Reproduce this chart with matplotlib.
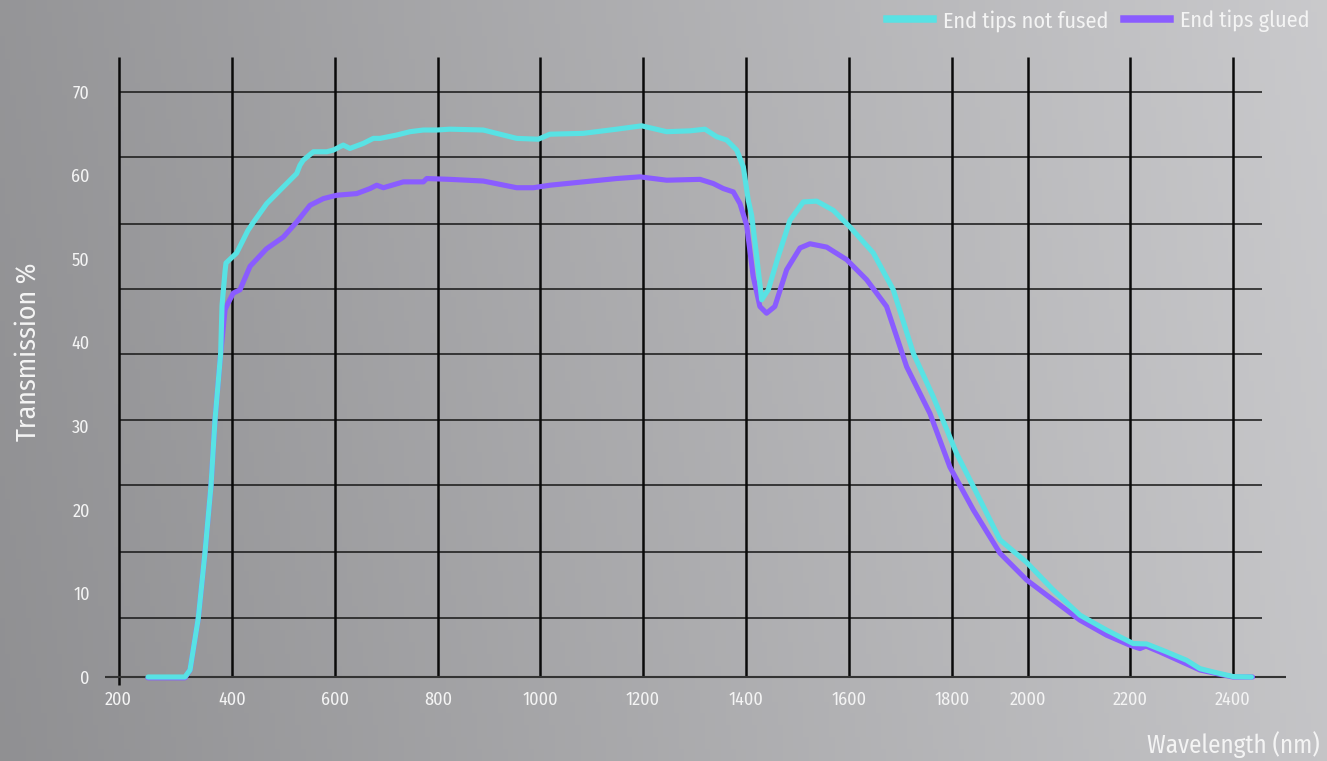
import numpy as np
import matplotlib
matplotlib.use("Agg")
import matplotlib.pyplot as plt
from matplotlib.lines import Line2D

# ---------------- data ----------------
series_names = ["End tips not fused", "End tips glued"]

cyan_wl = [252, 317, 326, 340.6, 352.4, 363, 370, 380, 382.4, 387.7, 389.4, 409, 431, 440.8,
           467.4, 499.6, 525.6, 532, 538.4, 558, 584, 596.7, 616, 629, 655, 674.4, 687.4,
           719.8, 745.6, 771.4, 797.5, 823.5, 888.8, 954.3, 996.7, 1019.4, 1084, 1149,
           1197.5, 1246, 1291.3, 1320.4, 1343, 1362.5, 1382, 1394.8, 1404.5, 1411, 1420.8,
           1430.5, 1443.3, 1462.7, 1485.4, 1511.3, 1537.3, 1569.6, 1602, 1647.2, 1686,
           1725, 1763.7, 1812.4, 1856, 1926.3, 1996.6, 2049.6, 2101.9, 2154.3, 2206.4,
           2232.4, 2271.2, 2310, 2335.9, 2361.7, 2400.5, 2436]
cyan_t = [0, 0, 0.84, 7.05, 14.9, 22.9, 30.7, 38.7, 44.4, 48.5, 49.5, 50.7, 53.4, 54.3,
          56.6, 58.6, 60.2, 61.2, 61.8, 62.8, 62.8, 63.0, 63.6, 63.2, 63.8, 64.4, 64.4,
          64.8, 65.2, 65.4, 65.4, 65.5, 65.4, 64.4, 64.3, 64.9, 65.0, 65.5,
          65.9, 65.2, 65.3, 65.5, 64.6, 64.2, 63.0, 61.0, 57.0, 55.2, 50.3,
          45.1, 46.3, 50.3, 54.6, 56.8, 56.9, 55.8, 53.8, 50.7, 46.3,
          38.7, 33.5, 26.7, 22.8, 16.4, 13.7, 10.4, 7.4, 5.6, 4.0,
          3.95, 3.0, 2.0, 1.0, 0.6, 0.05, 0.0]

purple_wl = [252, 317, 326, 340.6, 352.4, 363, 370, 380, 383.3, 387.7, 393, 402.5, 415.5,
             435, 467, 499.6, 525.6, 551.5, 577.4, 603.3, 642.2, 668, 681, 694, 732.8,
             771.6, 778.2, 823.5, 888.8, 954.3, 986.9, 1019.4, 1084, 1149, 1194.2, 1246,
             1310.7, 1336.6, 1356, 1375.4, 1388.3, 1401.4, 1414, 1427, 1440, 1456, 1479,
             1505, 1524.3, 1556.7, 1595.5, 1634.3, 1673, 1712, 1757.3, 1796, 1856, 1926.3,
             1996.6, 2049.6, 2101.9, 2154.3, 2200, 2219.4, 2231, 2258, 2335.9, 2400, 2438]
purple_t = [-0.1, -0.1, 0.84, 7.05, 14.9, 22.9, 30.7, 38.7, 40.9, 43.9, 44.7, 45.9, 46.3,
            49.1, 51.2, 52.6, 54.4, 56.4, 57.2, 57.6, 57.8, 58.4, 58.8, 58.5, 59.2,
            59.2, 59.6, 59.5, 59.3, 58.5, 58.5, 58.8, 59.2, 59.6, 59.8, 59.4,
            59.5, 59.0, 58.4, 58.0, 56.6, 54.0, 47.9, 44.3, 43.5, 44.3, 48.7,
            51.3, 51.8, 51.4, 49.9, 47.5, 44.3, 37.1, 31.5, 25.1, 20.0, 14.8,
            11.6, 9.2, 6.8, 5.0, 3.8, 3.4, 3.7, 3.0, 0.84, 0.0, 0.0]

x_ticks = [200, 400, 600, 800, 1000, 1200, 1400, 1600, 1800, 2000, 2200, 2400]
y_ticks = [0, 10, 20, 30, 40, 50, 60, 70]

# decorative (non-uniform) axis geometry of the original artwork
x_tick_pos = [0, 1.102, 2.102, 3.102, 4.092, 5.092, 6.092, 7.092, 8.092, 8.830, 9.820, 10.820]
h_grid = [7.0, 14.9, 22.9, 30.7, 38.6, 46.4, 54.2, 62.2, 70.0]

CYAN = "#58e2e4"
PURPLE = "#8a5cff"
TXT = "#f4f4f4"

plt.rcParams["font.family"] = ["Fira Sans Condensed", "Open Sans", "DejaVu Sans"]
plt.rcParams["font.weight"] = "normal"

# ---------------- piecewise x scale ----------------
WL = np.array(x_ticks, float)
POS = np.array(x_tick_pos, float)
s0 = (POS[1] - POS[0]) / (WL[1] - WL[0])
s1 = (POS[-1] - POS[-2]) / (WL[-1] - WL[-2])


def fwd(x):
    x = np.asarray(x, float)
    out = np.interp(x, WL, POS)
    out = np.where(x < WL[0], POS[0] + (x - WL[0]) * s0, out)
    out = np.where(x > WL[-1], POS[-1] + (x - WL[-1]) * s1, out)
    return out


def inv(u):
    u = np.asarray(u, float)
    out = np.interp(u, POS, WL)
    out = np.where(u < POS[0], WL[0] + (u - POS[0]) / s0, out)
    out = np.where(u > POS[-1], WL[-1] + (u - POS[-1]) / s1, out)
    return out


W, H = 1327, 761
fig = plt.figure(figsize=(W / 100, H / 100), dpi=100)

# background gradient
bg = fig.add_axes([0, 0, 1, 1], zorder=-10)
gx = np.linspace(0, 1, 256)
gy = np.linspace(0, 1, 64)
GX, GY = np.meshgrid(gx, gy)
val = 0.565 + 0.205 * GX + 0.02 * GY
bg.imshow(np.dstack([val, val, val + 0.01]).clip(0, 1), aspect="auto", extent=[0, 1, 0, 1], origin="lower")
bg.axis("off")

ax = fig.add_axes([105 / W, 1 - 690 / H, (1286 - 105) / W, (690 - 57) / H])
ax.patch.set_alpha(0)
ax.set_xscale("function", functions=(fwd, inv))
ax.set_xlim(176.2, 2503)
ax.set_ylim(-1.554, 74.13)
for s in ax.spines.values():
    s.set_visible(False)

# grid
ax.hlines(h_grid, 203, 2456, color="#1c1c1c", lw=1.15, zorder=1)
ax.vlines(x_ticks[1:], 0, 74.13, color="#0a0a0a", lw=1.8, zorder=1)
ax.vlines([x_ticks[0]], -0.96, 74.13, color="#0a0a0a", lw=1.8, zorder=1)
ax.axhline(0, color="#333333", lw=1.5, zorder=1)

ax.plot(purple_wl, purple_t, color=PURPLE, lw=3.7, solid_capstyle="round", solid_joinstyle="round", zorder=3)
ax.plot(cyan_wl, cyan_t, color=CYAN, lw=3.7, solid_capstyle="round", solid_joinstyle="round", zorder=4)

ax.set_xticks(x_ticks)
ax.set_xticklabels([str(v) for v in x_ticks])
ax.set_yticks(y_ticks)
ax.set_yticklabels([str(v) for v in y_ticks])
ax.xaxis.set_minor_locator(matplotlib.ticker.NullLocator())
ax.tick_params(axis="both", length=0, colors=TXT, labelsize=13)
ax.tick_params(axis="x", pad=1)
ax.tick_params(axis="y", pad=11)

fig.text(28 / W, 1 - 352 / H, "Transmission %", rotation=90, ha="center", va="center",
         color=TXT, fontsize=20)
fig.text(1320 / W, 1 - 745 / H, "Wavelength (nm)", ha="right", va="center", color=TXT, fontsize=18)

handles = [Line2D([], [], color=CYAN, lw=5.4), Line2D([], [], color=PURPLE, lw=5.4)]
leg = fig.legend(handles, series_names, loc="center right", bbox_to_anchor=(1310 / W, 1 - 21 / H),
                 ncol=2, frameon=False, fontsize=16, handlelength=2.05, handletextpad=0.48,
                 columnspacing=0.7, borderpad=0, borderaxespad=0)
for t in leg.get_texts():
    t.set_color(TXT)

fig.savefig("out.png", dpi=100)
